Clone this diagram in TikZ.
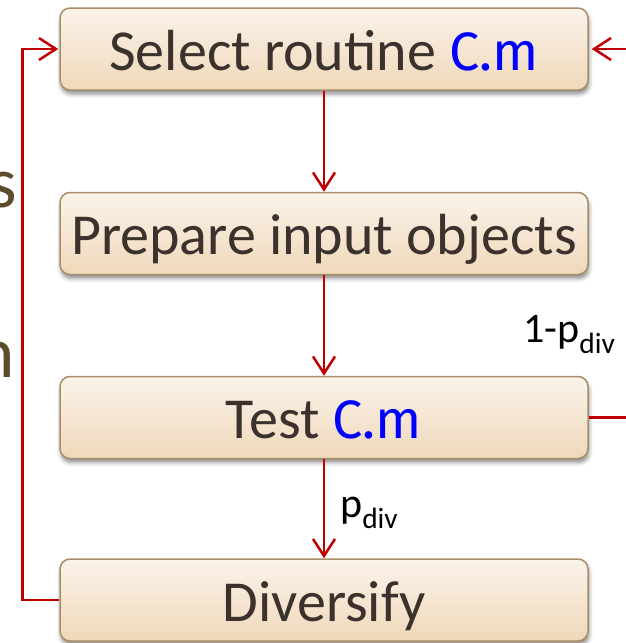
\documentclass[tikz,border=0pt]{standalone}
\usepackage{fontspec}
\setmainfont{Carlito}
\newfontfamily\codefont{Fira Sans}
\usetikzlibrary{arrows.meta,shadows.blur}
\definecolor{boxtop}{HTML}{FBF3EA}
\definecolor{boxbot}{HTML}{EFD8BA}
\definecolor{boxline}{HTML}{A88D66}
\definecolor{flow}{HTML}{C00000}
\definecolor{ink}{HTML}{3B312D}
\definecolor{sidetext}{HTML}{5C4C2C}
\definecolor{codeblue}{HTML}{0000FF}
\newcommand{\codename}[1]{{\codefont\fontsize{54}{56}\selectfont\color{codeblue}#1}}
\begin{document}
\begin{tikzpicture}[x=1pt,y=-1pt,
  stagebox/.style={draw=boxline, line width=1.5pt, rounded corners=10pt,
    top color=boxtop, bottom color=boxbot,
    minimum width=528pt, minimum height=82pt, inner sep=0pt,
    text=ink, font=\fontsize{58}{60}\selectfont, text height=42pt, text depth=0pt,
    blur shadow={shadow xshift=1pt, shadow yshift=-4pt, shadow blur radius=4pt, shadow opacity=45}},
  flowarrow/.style={draw=flow, line width=2.5pt,
    -{Straight Barb[length=17pt,width=22pt,line width=2.5pt]}},
  flowline/.style={draw=flow, line width=2.5pt},
  sidefrag/.style={text=sidetext, font=\fontsize{73}{75}\selectfont, inner sep=0pt, anchor=base east},
  problabel/.style={text=black, font=\fontsize{42}{44}\selectfont, inner sep=0pt, anchor=base west}]
\useasboundingbox (0,0) rectangle (625,643);

% partly visible text at the left margin
\node[sidefrag] (fragS) at (17,207) {s};
\node[sidefrag] (fragN) at (15,377) {n};

% process stages
\node[stagebox] (sel)  at (324,49)  {Select routine \codename{C.m}};
\node[stagebox] (prep) at (324,233.5) {Prepare input objects};
\node[stagebox] (test) at (324,417.5) {Test \codename{C.m}};
\node[stagebox] (div)  at (324,600) {Diversify};

% main flow
\draw[flowarrow] (sel.south) -- (prep.north);
\draw[flowarrow] (prep.south) -- (test.north);
\draw[flowarrow] (test.south) -- (div.north);

% loop back from Diversify to Select routine
\draw[flowarrow, shorten >=1pt] (div.west) -- ++(-37,0) |- (sel.west);

% loop back from Test (right side), leaving the frame
\coordinate (outR) at (640,417.5);
\coordinate (inR) at (640,49);
\draw[flowline] (test.east) -- (outR);
\draw[flowarrow, shorten >=3pt] (inR) -- (sel.east);

% branch probabilities
\node[problabel] (pstay) at (523,342) {1-p\textsubscript{div}};
\node[problabel] (pdiv) at (340,517) {p\textsubscript{div}};
\end{tikzpicture}
\end{document}
